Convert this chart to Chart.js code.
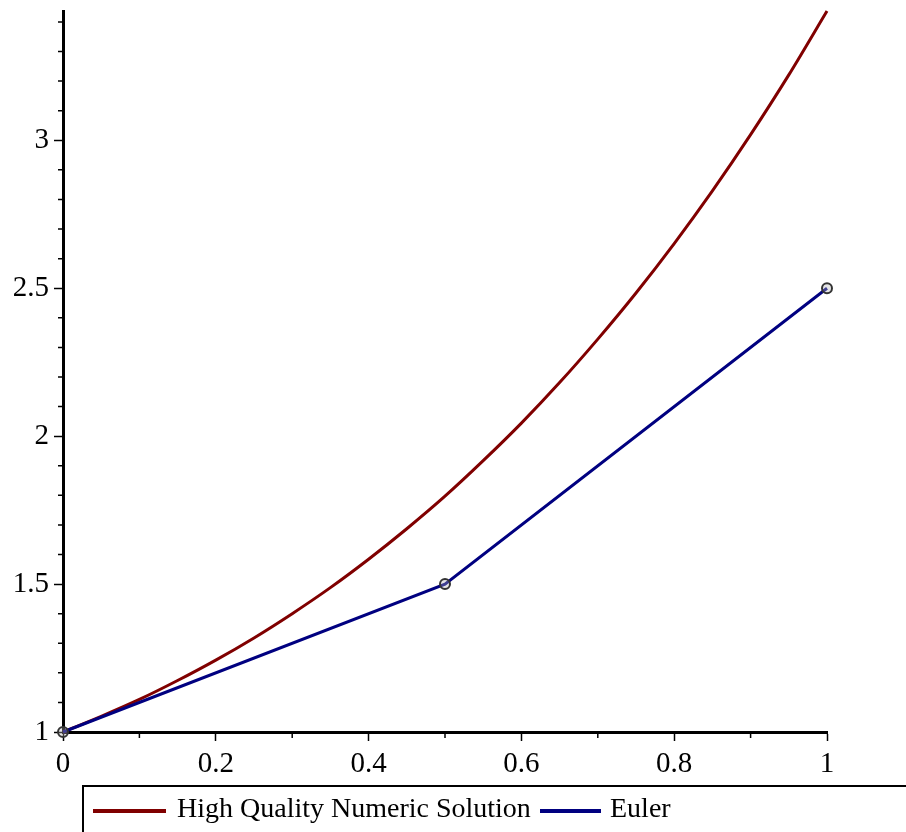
<!DOCTYPE html>
<html>
<head>
<meta charset="utf-8">
<script src="https://cdn.jsdelivr.net/npm/chart.js@4/dist/chart.umd.min.js"></script>
<style>
  html, body { margin: 0; padding: 0; background: #fff; }
  #wrap { position: relative; width: 906px; height: 832px; overflow: hidden; }
  #legend { position: absolute; left: 82px; top: 785px; width: 900px; height: 80px;
            border: 2px solid #000; box-sizing: border-box; font-family: 'Liberation Serif', serif;
            font-size: 28px; color: #000; }
  #legend .sw { position: absolute; height: 4px; top: 22px; }
  #legend .lb { position: absolute; top: 4px; white-space: nowrap; line-height: 34px; }
</style>
</head>
<body>
<div id="wrap">
  <canvas id="chart" width="906" height="832"></canvas>
  <div id="legend"></div>
</div>
<script>
// dados
const xsCurva = [0, 0.05, 0.1, 0.15, 0.2, 0.25, 0.3, 0.35, 0.4, 0.45, 0.5, 0.55, 0.6, 0.65, 0.7, 0.75, 0.8, 0.85, 0.9, 0.95, 1];
const ysCurva = [1, 1.053, 1.110, 1.174, 1.243, 1.318, 1.400, 1.488, 1.584, 1.687, 1.797, 1.917, 2.044, 2.181, 2.328, 2.484, 2.651, 2.829, 3.019, 3.221, 3.437];
const xsEuler = [0, 0.5, 1];
const ysEuler = [1, 1.5, 2.5];
const xMinor = [0.1, 0.3, 0.5, 0.7, 0.9];
const yMinor = [1.1, 1.2, 1.3, 1.4, 1.6, 1.7, 1.8, 1.9, 2.1, 2.2, 2.3, 2.4, 2.6, 2.7, 2.8, 2.9, 3.1, 3.2, 3.3, 3.4];
const nomes = ['High Quality Numeric Solution', 'Euler'];
const cores = ['#800000', '#000080'];

const fonteTick = { family: "'Liberation Serif', serif", size: 29 };
const fmtTick = v => String(Math.round(v * 10) / 10);

// ticks menores desenhados pela escala
const minorTicks = {
  id: 'minorTicks',
  afterDraw(chart) {
    const ctx = chart.ctx, sx = chart.scales.x, sy = chart.scales.y;
    ctx.save();
    ctx.strokeStyle = '#000'; ctx.lineWidth = 1.5;
    ctx.beginPath();
    xMinor.forEach(v => { const p = sx.getPixelForValue(v); ctx.moveTo(p, sx.top); ctx.lineTo(p, sx.top + 6); });
    yMinor.forEach(v => { const p = sy.getPixelForValue(v); ctx.moveTo(sy.right, p); ctx.lineTo(sy.right - 5, p); });
    ctx.stroke();
    ctx.restore();
  }
};

new Chart(document.getElementById('chart'), {
  type: 'line',
  data: {
    datasets: [
      { label: nomes[0], data: xsCurva.map((x, i) => ({ x, y: ysCurva[i] })), borderColor: cores[0], borderWidth: 3,
        pointRadius: 0, cubicInterpolationMode: 'monotone', fill: false, clip: false, order: 1 },
      { label: nomes[1], data: xsEuler.map((x, i) => ({ x, y: ysEuler[i] })), borderColor: cores[1], borderWidth: 3,
        pointRadius: 5, pointBorderWidth: 2, pointBorderColor: '#333', pointBackgroundColor: 'rgba(180,180,180,0.35)',
        tension: 0, fill: false, clip: false, order: 0 }
    ]
  },
  options: {
    responsive: false, animation: false,
    layout: { padding: { top: 11, right: 79, left: 0, bottom: 0 } },
    plugins: { legend: { display: false }, tooltip: { enabled: false } },
    scales: {
      x: {
        type: 'linear', min: 0, max: 1,
        afterFit: s => { s.height = 100; s.paddingLeft = 0; s.paddingRight = 0; },
        border: { color: '#000', width: 3 },
        grid: { drawOnChartArea: false, drawTicks: true, tickLength: 9, tickColor: '#000', tickWidth: 1.5 },
        ticks: { stepSize: 0.2, color: '#000', font: fonteTick, padding: 6, maxRotation: 0, includeBounds: false, callback: fmtTick }
      },
      y: {
        type: 'linear', min: 1, max: 3.437,
        afterFit: s => { s.width = 63; s.paddingTop = 0; s.paddingBottom = 0; },
        border: { color: '#000', width: 3 },
        grid: { drawOnChartArea: false, drawTicks: true, tickLength: 9, tickColor: '#000', tickWidth: 1.5 },
        ticks: { stepSize: 0.5, color: '#000', font: fonteTick, padding: 5, includeBounds: false, callback: fmtTick }
      }
    }
  },
  plugins: [minorTicks]
});

// legenda com caixa
const legenda = document.getElementById('legend');
const posLeg = [{ sw: 9, w: 73, txt: 93 }, { sw: 456, w: 61, txt: 526 }];
nomes.forEach((n, i) => {
  legenda.insertAdjacentHTML('beforeend',
    `<span class="sw" style="left:${posLeg[i].sw}px;width:${posLeg[i].w}px;background:${cores[i]}"></span>` +
    `<span class="lb" style="left:${posLeg[i].txt}px">${n}</span>`);
});
</script>
</body>
</html>
